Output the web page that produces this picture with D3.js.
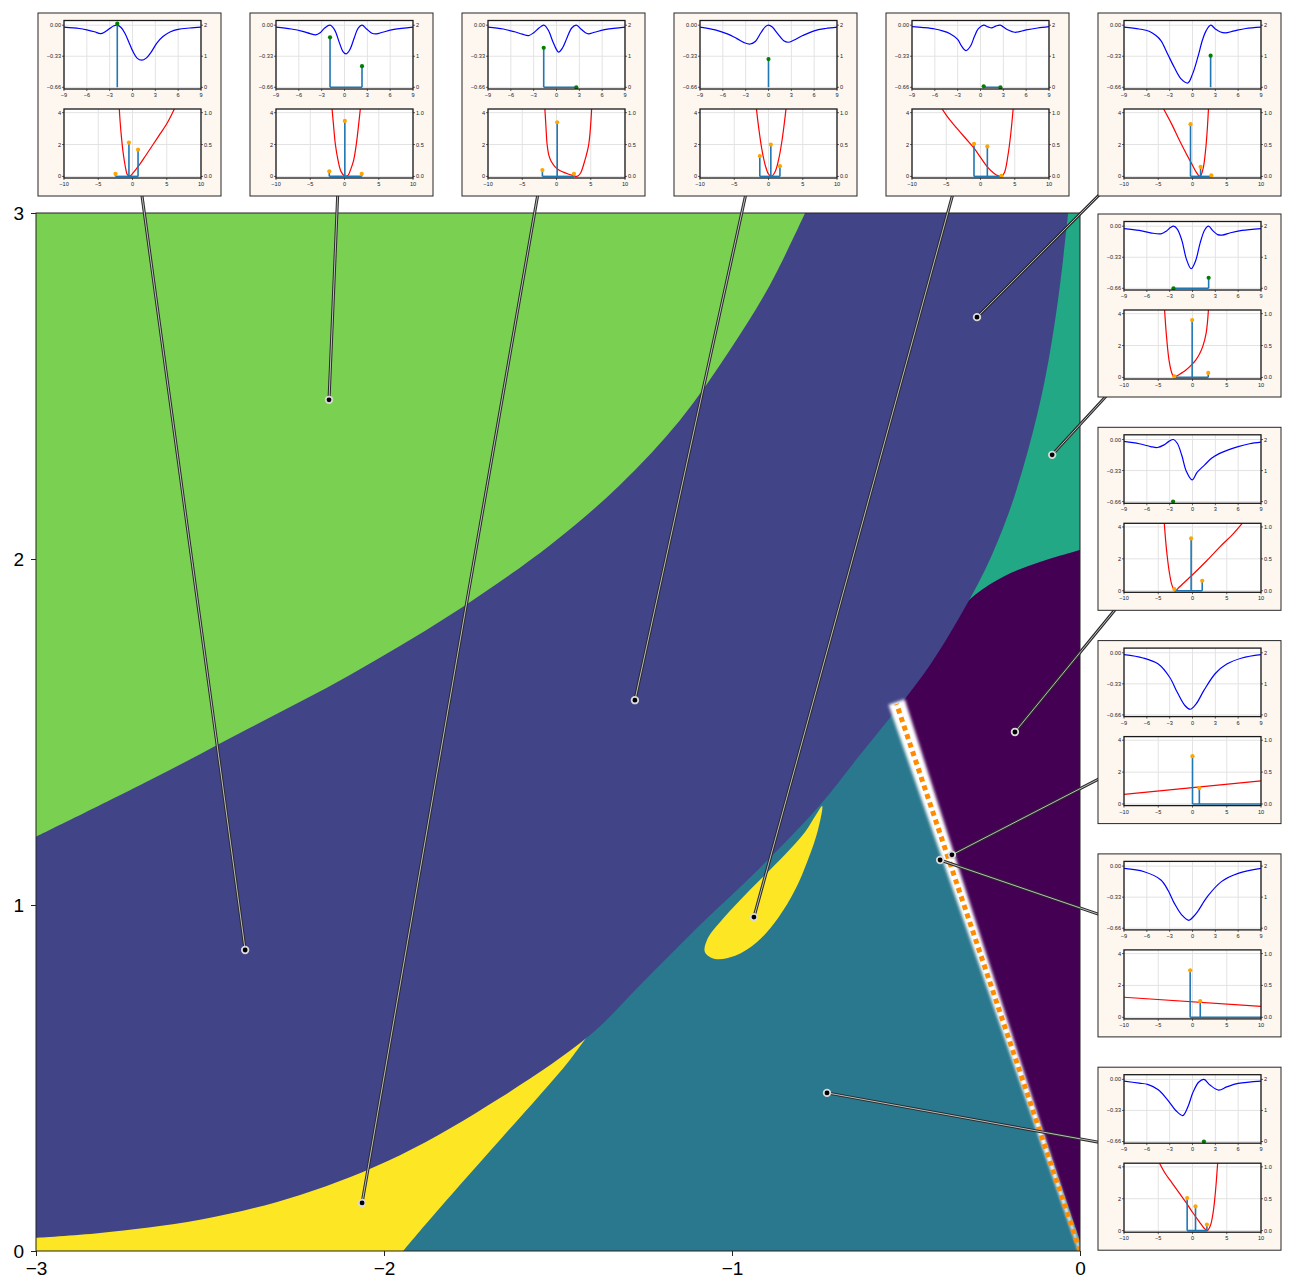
<!DOCTYPE html>
<html><head><meta charset="utf-8">
<script src="https://cdn.jsdelivr.net/npm/d3@7"></script>
<style>body{margin:0;background:#fff}svg{display:block}</style>
</head><body><svg id="chart" width="1290" height="1285"></svg>
<script>
// ---------- main map axes ----------
const xTicks = [-3, -2, -1, 0];
const yTicks = [0, 1, 2, 3];

// ---------- phase regions (boundaries in parameter space) ----------
const greenEdge = [[-3.000,1.197],[-2.672,1.361],[-2.385,1.512],[-2.098,1.665],[-1.810,1.838],[-1.523,2.040],[-1.322,2.214],[-1.149,2.402],[-1.006,2.604],[-0.891,2.792],[-0.790,3.000]];
const blueEdge = [[-0.034,3.000],[-0.063,2.749],[-0.101,2.517],[-0.149,2.315],[-0.207,2.127],[-0.273,1.968],[-0.351,1.824],[-0.431,1.694],[-0.517,1.578],[-0.632,1.434],[-0.747,1.289],[-0.920,1.107],[-1.092,0.942],[-1.264,0.769],[-1.408,0.624],[-1.667,0.442],[-1.954,0.277],[-2.241,0.162],[-2.529,0.090],[-2.816,0.052],[-3.000,0.038]];
const purpleEdge = [[0.000,2.026],[-0.115,1.991],[-0.216,1.951],[-0.302,1.896],[-0.374,1.824],[-0.437,1.737],[-0.503,1.621],[-0.540,1.620]];
const yellowStripEdge = [[-1.395,0.650],[-1.466,0.552],[-1.552,0.451],[-1.667,0.321],[-1.782,0.191],[-1.882,0.075],[-1.945,0.000]];
const yellowIsland = [[-0.741,1.286],[-0.753,1.217],[-0.782,1.130],[-0.819,1.043],[-0.868,0.962],[-0.928,0.893],[-0.991,0.853],[-1.049,0.844],[-1.078,0.864],[-1.069,0.905],[-1.034,0.951],[-0.977,1.014],[-0.914,1.078],[-0.848,1.145],[-0.790,1.211],[-0.759,1.260]];
const criticalLine = [[0, 0], [-0.527, 1.581]];

// ---------- probe points (one per inset, in inset order) ----------
const probes = [[-2.399,0.870],[-2.158,2.460],[-2.063,0.139],[-1.279,1.592],[-0.937,0.965],[-0.296,2.699],[-0.080,2.301],[-0.187,1.500],[-0.368,1.145],[-0.402,1.130],[-0.727,0.457]];

// ---------- inset data: potential well (blue) and its occupied sites (green) ----------
const wellCurves = [
  [[-9,-0.02],[-7,-0.035],[-6,-0.05],[-5,-0.07],[-4.2,-0.09],[-3.6,-0.07],[-3,-0.035],[-2.5,-0.008],[-2,0],[-1.5,-0.025],[-1,-0.085],[-0.5,-0.175],[0,-0.27],[0.6,-0.35],[1.2,-0.372],[1.8,-0.35],[2.5,-0.28],[3.2,-0.19],[4,-0.12],[5,-0.07],[6,-0.045],[7.5,-0.03],[9,-0.02]],
  [[-9,-0.02],[-7,-0.04],[-5.5,-0.065],[-4.5,-0.09],[-3.8,-0.103],[-3.2,-0.08],[-2.6,-0.03],[-1.9,0],[-1.3,-0.05],[-0.7,-0.18],[-0.2,-0.28],[0.22,-0.305],[0.7,-0.26],[1.3,-0.13],[1.8,-0.03],[2.3,0],[2.9,-0.04],[3.6,-0.085],[4.2,-0.092],[5,-0.075],[6.5,-0.045],[9,-0.02]],
  [[-9,-0.02],[-7,-0.04],[-5.5,-0.07],[-4.5,-0.095],[-3.66,-0.11],[-3,-0.08],[-2.3,-0.03],[-1.66,0],[-1.1,-0.05],[-0.5,-0.17],[0,-0.26],[0.28,-0.287],[0.8,-0.24],[1.4,-0.13],[2,-0.03],[2.6,0],[3.2,-0.04],[3.8,-0.08],[4.2,-0.092],[5,-0.075],[6.5,-0.045],[9,-0.02]],
  [[-9,-0.02],[-7,-0.05],[-5.5,-0.09],[-4.2,-0.14],[-3.2,-0.185],[-2.4,-0.2],[-1.7,-0.17],[-1,-0.08],[-0.4,-0.015],[0,0],[0.5,-0.02],[1.2,-0.09],[2,-0.165],[2.6,-0.181],[3.3,-0.16],[4.5,-0.11],[6,-0.06],[7.5,-0.035],[9,-0.02]],
  [[-9,-0.015],[-7.5,-0.025],[-6,-0.04],[-5,-0.06],[-4,-0.09],[-3,-0.15],[-2.5,-0.22],[-1.9,-0.27],[-1.3,-0.22],[-0.8,-0.12],[-0.3,-0.04],[0.4,0],[1.0,-0.018],[1.45,-0.028],[2.0,-0.01],[2.6,0],[3.5,-0.045],[4.5,-0.075],[6,-0.05],[7.5,-0.03],[9,-0.015]],
  [[-9,-0.02],[-7,-0.04],[-5.7,-0.064],[-4.8,-0.11],[-4.15,-0.163],[-3.3,-0.3],[-2.4,-0.447],[-1.5,-0.57],[-0.62,-0.614],[0,-0.52],[0.7,-0.34],[1.3,-0.16],[1.8,-0.057],[2.4,0],[3,-0.04],[3.6,-0.07],[4.3,-0.082],[5.5,-0.06],[7,-0.035],[9,-0.02]],
  [[-9,-0.025],[-7,-0.045],[-5.5,-0.07],[-4.15,-0.081],[-3.4,-0.05],[-2.9,-0.015],[-2.5,0],[-2,-0.03],[-1.4,-0.15],[-0.8,-0.35],[-0.18,-0.452],[0.4,-0.37],[1.0,-0.18],[1.6,-0.04],[2.1,0],[2.7,-0.05],[3.3,-0.09],[3.9,-0.095],[5,-0.07],[6.5,-0.045],[9,-0.025]],
  [[-9,-0.02],[-7,-0.045],[-5.5,-0.075],[-4.6,-0.085],[-3.8,-0.06],[-3.1,-0.02],[-2.5,0],[-2,-0.04],[-1.4,-0.17],[-0.8,-0.34],[-0.05,-0.43],[0.6,-0.35],[1.6,-0.27],[2.5,-0.2],[3.5,-0.15],[4.7,-0.11],[6,-0.075],[7.5,-0.045],[9,-0.028]],
  [[-9,-0.02],[-6.5,-0.055],[-4.5,-0.12],[-3,-0.26],[-2,-0.42],[-1,-0.56],[-0.3,-0.6],[0.5,-0.54],[1.5,-0.4],[3,-0.22],[4.5,-0.12],[6.5,-0.055],[9,-0.02]],
  [[-9,-0.025],[-6.35,-0.06],[-4.15,-0.147],[-3.2,-0.26],[-2.4,-0.393],[-1.4,-0.52],[-0.48,-0.576],[0.2,-0.53],[0.7,-0.48],[2.0,-0.32],[3.8,-0.165],[6.0,-0.077],[9,-0.025]],
  [[-9,-0.018],[-7,-0.04],[-5.9,-0.053],[-4.5,-0.11],[-3.3,-0.214],[-2.2,-0.33],[-1.28,-0.385],[-0.6,-0.29],[0.04,-0.143],[0.8,-0.03],[1.5,0],[2.3,-0.06],[3.44,-0.114],[4.5,-0.08],[6,-0.043],[9,-0.018]]
];
const wellSites = [
  [[-2.0,2.05]],
  [[-1.9,1.61],[2.3,0.68]],
  [[-1.68,1.27],[2.6,0]],
  [[0,0.91]],
  [[0.42,0.03],[2.62,0]],
  [[2.38,1.02]],
  [[-2.5,0],[2.12,0.34]],
  [[-2.55,0]],
  [],
  [],
  [[1.5,0]]
];

// ---------- inset data: cost curve (red) and weights (orange) ----------
const costCurves = [
  [[-1.95,4.4],[-1.8,3.4],[-1.6,2.4],[-1.4,1.6],[-1.2,1.0],[-1.0,0.5],[-0.8,0.15],[-0.55,0.02],[-0.3,0.04],[0,0.17],[1,0.72],[2,1.36],[3,2.0],[4,2.65],[5,3.3],[6.3,4.4]],
  [[-1.85,4.4],[-1.6,3.2],[-1.33,2.0],[-0.94,1.0],[-0.5,0.3],[0,0.03],[0.2,0],[0.5,0.06],[1.0,0.55],[1.33,1.0],[1.72,2.0],[2.05,3.2],[2.35,4.4]],
  [[-1.72,4.4],[-1.55,3.2],[-1.37,2.0],[-1.1,1.3],[-0.78,0.95],[-0.3,0.65],[0.3,0.42],[1.0,0.27],[1.7,0.15],[2.4,0.06],[3.0,0],[3.5,0.2],[4.1,0.95],[4.7,2.0],[5.15,4.4]],
  [[-1.8,4.4],[-1.5,3.28],[-1,1.78],[-0.5,0.74],[0,0.15],[0.4,0],[1,0.33],[1.5,1.1],[2,2.33],[2.6,4.4]],
  [[-5.7,4.3],[-5,3.85],[-4,3.3],[-3,2.8],[-2,2.3],[-1,1.8],[0,1.2],[1,0.6],[2,0.18],[2.6,0.03],[3.05,0],[3.5,0.25],[4.0,1.3],[4.4,2.6],[4.8,4.4]],
  [[-4.3,4.3],[-3,3.25],[-2,2.35],[-1,1.5],[0,0.7],[0.5,0.3],[1.0,0.02],[1.2,0.05],[1.6,0.6],[1.9,1.6],[2.15,2.9],[2.35,4.4]],
  [[-4.1,4.4],[-3.8,2.6],[-3.4,1.0],[-3.0,0.25],[-2.65,0],[-2.2,0.12],[-1.5,0.3],[-1,0.45],[0,0.85],[0.5,1.1],[1,1.45],[1.5,1.95],[2,2.8],[2.35,4.4]],
  [[-4.15,4.4],[-3.8,2.6],[-3.4,1.2],[-3.0,0.35],[-2.6,0.02],[-2.4,0.02],[-2,0.2],[0,1.0],[2,1.85],[4,2.75],[6,3.6],[7.4,4.3]],
  [[-10,0.6],[10,1.45]],
  [[-10,1.26],[10,0.69]],
  [[-4.9,4.3],[-4,3.6],[-3,3.0],[-2,2.4],[-1,1.8],[0,1.15],[1,0.55],[1.7,0.15],[2.15,0],[2.6,0.3],[3.0,1.1],[3.3,2.2],[3.7,4.4]]
];
const costWeights = [
  [[-2.48,0.04],[-0.52,0.53],[0.81,0.42]],
  [[-2.22,0.08],[0.05,0.87],[2.51,0.04]],
  [[-2.06,0.1],[0.1,0.85],[2.55,0.04]],
  [[-1.27,0.32],[0.34,0.5],[1.67,0.16]],
  [[-0.95,0.51],[1.0,0.47],[3.06,0.01]],
  [[-0.29,0.82],[1.18,0.15],[2.75,0.016]],
  [[-2.65,0.016],[-0.05,0.9],[2.3,0.07]],
  [[-2.65,0.026],[-0.2,0.82],[1.42,0.156]],
  [[0,0.75],[1,0.25],[12,0]],
  [[-0.34,0.737],[1.13,0.253],[12,0]],
  [[-0.78,0.51],[0.44,0.38],[2.1,0.094]]
];

const wellXTicks = [-9,-6,-3,0,3,6,9];
const wellLeftTicks = [0, -0.33, -0.66];
const wellRightTicks = [0, 1, 2];
const costXTicks = [-10,-5,0,5,10];
const costLeftTicks = [0, 2, 4];
const costRightTicks = [0, 0.5, 1];

// ---------- colours ----------
const C = {green:"#7ad151", blue:"#414487", teal:"#2a788e", yellow:"#fde725", purple:"#440154", jade:"#22a884"};

const svg = d3.select("#chart");
const font = "'Liberation Sans', Arial, Helvetica, sans-serif";

const x = d3.scaleLinear().domain([-3, 0]).range([36, 1080]);
const y = d3.scaleLinear().domain([0, 3]).range([1251, 213]);

const defs = svg.append("defs");
defs.append("clipPath").attr("id","mainClip").append("rect")
  .attr("x", x(-3)).attr("y", y(3)).attr("width", x(0)-x(-3)).attr("height", y(0)-y(3));
defs.append("filter").attr("id","soft").attr("x","-50%").attr("y","-10%").attr("width","200%").attr("height","120%")
  .append("feGaussianBlur").attr("stdDeviation", 1.6);

const smooth = d3.line().x(d => x(d[0])).y(d => y(d[1])).curve(d3.curveCatmullRom.alpha(0.5));
const P = d => `L${x(d[0])},${y(d[1])}`;

const map = svg.append("g").attr("clip-path","url(#mainClip)");
// base region
map.append("rect").attr("x", x(-3)).attr("y", y(3)).attr("width", x(0)-x(-3)).attr("height", y(0)-y(3)).attr("fill", C.teal);
// lower-left strip (its upper side is covered by the band drawn later)
map.append("path").attr("fill", C.yellow)
  .attr("d", `M${x(-3)},${y(0)}` + P([-3,0.5]) + P([-2.2,0.8]) + P([-1.6,0.9]) + P(yellowStripEdge[0]) + smooth(yellowStripEdge).replace(/^M/,"L") + "Z");
// strip along the right edge
map.append("path").attr("fill", C.jade)
  .attr("d", `M${x(-0.2)},${y(3)}` + P([0,3]) + smooth(purpleEdge).replace(/^M/,"L") + P([-0.6,1.6]) + "Z");
// right region
map.append("path").attr("fill", C.purple)
  .attr("d", smooth(purpleEdge) + P([-0.56,1.68]) + P([0.01,0]) + P([0.01,2.03]) + "Z");
// diagonal band
map.append("path").attr("fill", C.blue)
  .attr("d", `M${x(-3)},${y(3)}` + smooth(blueEdge).replace(/^M/,"L") + "Z");
// upper-left region
map.append("path").attr("fill", C.green)
  .attr("d", `M${x(-3)},${y(3)}` + smooth(greenEdge).replace(/^M/,"L") + "Z");
// island
map.append("path").attr("fill", C.yellow)
  .attr("d", d3.line().x(d => x(d[0])).y(d => y(d[1])).curve(d3.curveCatmullRomClosed.alpha(0.5))(yellowIsland));

// white band around the critical line, tapering toward the origin
{
  const a = [x(criticalLine[0][0]), y(criticalLine[0][1])];
  const b = [x(criticalLine[1][0]), y(criticalLine[1][1])];
  const dx = b[0]-a[0], dy = b[1]-a[1], L = Math.hypot(dx, dy);
  const nx = -dy/L, ny = dx/L;
  const wb = 1.2, wt = 8.5;
  const pts = [[a[0]+nx*wb, a[1]+ny*wb],[b[0]+nx*wt, b[1]+ny*wt-2],[b[0]-nx*wt, b[1]-ny*wt-2],[a[0]-nx*wb, a[1]-ny*wb]];
  map.append("path").attr("d", "M" + pts.map(p => p.join(",")).join("L") + "Z")
    .attr("fill", "#ffffff").attr("filter", "url(#soft)");
}
map.append("line")
  .attr("x1", x(criticalLine[0][0])).attr("y1", y(criticalLine[0][1]))
  .attr("x2", x(criticalLine[1][0])).attr("y2", y(criticalLine[1][1]))
  .attr("stroke", "#ff8c00").attr("stroke-width", 5).attr("stroke-dasharray", "5,4");

// frame and ticks
svg.append("rect").attr("x", x(-3)).attr("y", y(3)).attr("width", x(0)-x(-3)).attr("height", y(0)-y(3))
  .attr("fill","none").attr("stroke","#222").attr("stroke-width",1);
const xAxis = svg.append("g").attr("transform", `translate(0,${y(0)})`)
  .call(d3.axisBottom(x).tickValues(xTicks).tickSize(5).tickPadding(6).tickFormat(d => d === 0 ? "0" : "\u2212" + Math.abs(d)));
const yAxis = svg.append("g").attr("transform", `translate(${x(-3)},0)`)
  .call(d3.axisLeft(y).tickValues(yTicks).tickSize(5).tickPadding(7).tickFormat(d3.format("d")));
[xAxis, yAxis].forEach(g => {
  g.select(".domain").remove();
  g.selectAll("line").attr("stroke","#222");
  g.selectAll("text").attr("font-family", font).attr("font-size", 19).attr("fill","#000");
});

// ---------- insets ----------
const S = 183;
const insetPos = [];
for (let i = 0; i < 6; i++) insetPos.push([38 + i*212, 13]);
for (let j = 0; j < 5; j++) insetPos.push([1098, 214 + j*213.3]);

// leader lines under insets
const leaders = svg.append("g");
probes.forEach((p, i) => {
  const [ox, oy] = insetPos[i];
  const x2 = ox + S/2, y2 = oy + S/2;
  leaders.append("line").attr("x1", x(p[0])).attr("y1", y(p[1])).attr("x2", x2).attr("y2", y2)
    .attr("stroke","#2a2a2a").attr("stroke-width",3);
  leaders.append("line").attr("x1", x(p[0])).attr("y1", y(p[1])).attr("x2", x2).attr("y2", y2)
    .attr("stroke","#bdbdbd").attr("stroke-width",1);
});
// probe markers
svg.append("g").selectAll("circle").data(probes).join("circle")
  .attr("cx", d => x(d[0])).attr("cy", d => y(d[1])).attr("r", 3.3)
  .attr("fill","#000").attr("stroke","#d9d9d9").attr("stroke-width",1.8);

const fmtWell = d => d === 0 ? "0.00" : "\u2212" + Math.abs(d).toFixed(2);
const fmtInt = d => d < 0 ? "\u2212" + Math.abs(d) : String(d);

function panel(g, id, px0, px1, py0, py1, xDom, yDomL, yDomR, xt, ylt, yrt, fx, fl, fr) {
  const sx = d3.scaleLinear().domain(xDom).range([px0, px1]);
  const sl = d3.scaleLinear().domain(yDomL).range([py1, py0]);
  const sr = d3.scaleLinear().domain(yDomR).range([py1, py0]);
  g.append("rect").attr("x",px0).attr("y",py0).attr("width",px1-px0).attr("height",py1-py0).attr("fill","#fff");
  defs.append("clipPath").attr("id", id).append("rect").attr("x",px0).attr("y",py0).attr("width",px1-px0).attr("height",py1-py0);
  const grid = g.append("g").attr("stroke","#e3e3e3").attr("stroke-width",1);
  xt.forEach(t => grid.append("line").attr("x1",sx(t)).attr("x2",sx(t)).attr("y1",py0).attr("y2",py1));
  ylt.forEach(t => grid.append("line").attr("x1",px0).attr("x2",px1).attr("y1",sl(t)).attr("y2",sl(t)));
  const body = g.append("g").attr("clip-path", `url(#${id})`);
  const axes = g.append("g").attr("font-family", font).attr("font-size", 5.6).attr("fill","#222");
  xt.forEach(t => {
    axes.append("line").attr("x1",sx(t)).attr("x2",sx(t)).attr("y1",py1).attr("y2",py1+2).attr("stroke","#222").attr("stroke-width",0.7);
    axes.append("text").attr("x",sx(t)).attr("y",py1+8).attr("text-anchor","middle").text(fx(t));
  });
  ylt.forEach(t => {
    axes.append("line").attr("x1",px0-2).attr("x2",px0).attr("y1",sl(t)).attr("y2",sl(t)).attr("stroke","#222").attr("stroke-width",0.7);
    axes.append("text").attr("x",px0-3).attr("y",sl(t)+2).attr("text-anchor","end").text(fl(t));
  });
  yrt.forEach(t => {
    axes.append("line").attr("x1",px1).attr("x2",px1+2).attr("y1",sr(t)).attr("y2",sr(t)).attr("stroke","#222").attr("stroke-width",0.7);
    axes.append("text").attr("x",px1+3).attr("y",sr(t)+2).attr("text-anchor","start").text(fr(t));
  });
  g.append("rect").attr("x",px0).attr("y",py0).attr("width",px1-px0).attr("height",py1-py0)
    .attr("fill","none").attr("stroke","#1a1a1a").attr("stroke-width",1.3);
  return {sx, sl, sr, body};
}

function stems(body, sx, sr, pts, dotColor) {
  if (!pts.length) return;
  const xs = pts.map(d => d[0]);
  body.append("line").attr("x1", sx(d3.min(xs))).attr("x2", sx(d3.max(xs))).attr("y1", sr(0)).attr("y2", sr(0))
    .attr("stroke","#1f77b4").attr("stroke-width",1.6);
  pts.forEach(d => body.append("line").attr("x1",sx(d[0])).attr("x2",sx(d[0])).attr("y1",sr(0)).attr("y2",sr(d[1]))
    .attr("stroke","#1f77b4").attr("stroke-width",1.6));
  pts.forEach(d => body.append("circle").attr("cx",sx(d[0])).attr("cy",sr(d[1])).attr("r",2.1).attr("fill",dotColor));
}

insetPos.forEach((pos, i) => {
  const g = svg.append("g").attr("transform", `translate(${pos[0]},${pos[1]})`);
  g.append("rect").attr("width", S).attr("height", S).attr("fill", "#fdf7f0").attr("stroke", "#262626").attr("stroke-width", 1);

  // potential well with occupied sites
  const top = panel(g, "w" + i, 26, 163, 7.5, 76, [-9, 9], [-0.678, 0.05],
    [(-0.678 + 0.66) / 0.33, (0.05 + 0.66) / 0.33], wellXTicks, wellLeftTicks, wellRightTicks, fmtInt, fmtWell, d => String(d));
  top.body.append("path").datum(wellCurves[i])
    .attr("d", d3.line().x(d => top.sx(d[0])).y(d => top.sl(d[1])).curve(d3.curveCatmullRom.alpha(0.5)))
    .attr("fill","none").attr("stroke","#0000ff").attr("stroke-width",1.2);
  stems(top.body, top.sx, top.sr, wellSites[i], "#008000");

  // cost curve with weights
  const bot = panel(g, "c" + i, 26, 163, 96, 165, [-10, 10], [-0.1, 4.23],
    [-0.1 / 4, 4.23 / 4], costXTicks, costLeftTicks, costRightTicks, fmtInt, d => String(d), d => d.toFixed(1));
  bot.body.append("path").datum(costCurves[i])
    .attr("d", d3.line().x(d => bot.sx(d[0])).y(d => bot.sl(d[1])).curve(d3.curveCatmullRom.alpha(0.5)))
    .attr("fill","none").attr("stroke","#ff0000").attr("stroke-width",1.2);
  stems(bot.body, bot.sx, bot.sr, costWeights[i], "#ffa500");
});
</script>
</body></html>
